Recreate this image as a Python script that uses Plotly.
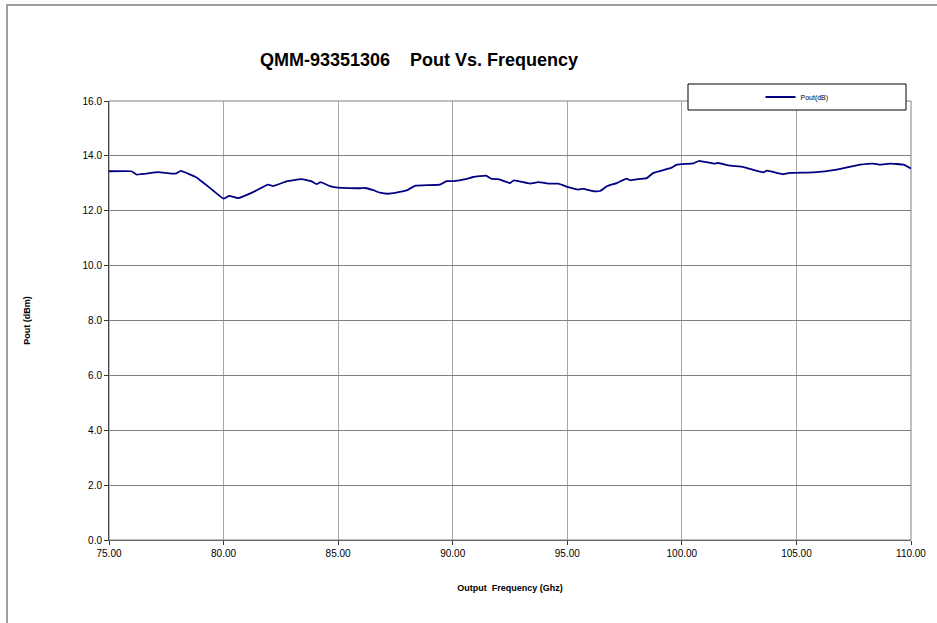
import plotly.graph_objects as go

freq = [75.0, 75.98, 76.2, 77.14, 77.9, 78.13, 78.82, 79.54, 80.0, 80.24, 80.63, 81.29, 81.94, 82.16,
        82.75, 83.4, 83.84, 84.06, 84.23, 84.64, 85.0, 85.95, 86.17, 86.5, 86.82, 87.18, 87.99, 88.35,
        89.44, 89.73, 90.02, 90.61, 90.9, 91.45, 91.7, 91.99, 92.5, 92.67, 93.37, 93.73, 94.24, 94.61,
        95.04, 95.48, 95.7, 96.14, 96.43, 96.72, 97.16, 97.59, 97.74, 98.17, 98.47, 98.76, 99.56, 99.78,
        100.5, 100.76, 101.38, 101.59, 102.03, 102.69, 103.56, 103.71, 104.43, 104.72, 105.74, 106.76,
        107.78, 108.36, 108.65, 109.08, 109.67, 110.0]
pout = [13.44, 13.44, 13.32, 13.41, 13.35, 13.45, 13.21, 12.74, 12.44, 12.54, 12.46, 12.68, 12.95, 12.90,
        13.07, 13.15, 13.07, 12.97, 13.04, 12.90, 12.84, 12.82, 12.83, 12.76, 12.66, 12.62, 12.74, 12.91,
        12.95, 13.08, 13.08, 13.16, 13.23, 13.28, 13.16, 13.15, 13.01, 13.11, 12.99, 13.04, 12.99, 12.99,
        12.86, 12.77, 12.80, 12.71, 12.72, 12.89, 13.01, 13.17, 13.11, 13.16, 13.19, 13.38, 13.57, 13.68,
        13.73, 13.82, 13.72, 13.74, 13.65, 13.59, 13.40, 13.46, 13.33, 13.38, 13.40, 13.50,
        13.68, 13.72, 13.68, 13.72, 13.68, 13.54]

series_name = "Pout(dB)"
title = "QMM-93351306    Pout Vs. Frequency"
x_title = "Output  Frequency (Ghz)"
y_title = "Pout (dBm)"

fig = go.Figure()
fig.add_trace(go.Scatter(x=freq, y=pout, mode="lines", name=series_name,
                         line=dict(color="#000080", width=1.8, shape="spline", smoothing=0.3)))

W, H = 937, 623
L, R, T, B = 109, 26, 101, 83
pw, ph = W - L - R, H - T - B

def px2paper_x(px):
    return (px - L) / pw

def px2paper_y(py):
    return (H - B - py) / ph

fig.update_layout(
    width=W, height=H,
    margin=dict(l=L, r=R, t=T, b=B),
    paper_bgcolor="white", plot_bgcolor="white",
    font=dict(family="Arial, Liberation Sans, sans-serif", color="black", size=10),
    title=dict(text="<b>" + title + "</b>", x=419 / W, xanchor="center",
               y=1 - 60 / H, yanchor="middle", font=dict(size=18)),
    showlegend=True,
    legend=dict(x=px2paper_x(797), y=px2paper_y(97), xanchor="center", yanchor="middle",
                bgcolor="rgba(0,0,0,0)", borderwidth=0, font=dict(size=7), itemwidth=30),
    xaxis=dict(range=[75, 110], dtick=5, tick0=75, tickformat=".2f",
               showgrid=True, gridcolor="#a6a6a6", gridwidth=1,
               showline=True, linecolor="#666666", linewidth=1, mirror=False,
               ticks="outside", ticklen=4, tickcolor="#333333",
               title=dict(text="<b>" + x_title + "</b>", font=dict(size=9), standoff=26),
               zeroline=False),
    yaxis=dict(range=[0, 16], dtick=2, tick0=0, tickformat=".1f",
               showgrid=True, gridcolor="#808080", gridwidth=1,
               showline=True, linecolor="#444444", linewidth=1,
               ticks="outside", ticklen=4, tickcolor="#333333",
               title=dict(text="<b>" + y_title + "</b>", font=dict(size=9), standoff=50),
               zeroline=False),
)

# plot area frame (top/right)
fig.add_shape(type="rect", xref="paper", yref="paper", x0=0, x1=1, y0=0, y1=1,
              line=dict(color="#808080", width=1), layer="below")
# outer chart border (right and bottom edges lie outside the view)
fig.add_shape(type="rect", xref="paper", yref="paper",
              x0=px2paper_x(7), x1=px2paper_x(960), y0=px2paper_y(640), y1=px2paper_y(5),
              line=dict(color="#808080", width=1.5), layer="below")
# legend box
fig.add_shape(type="rect", xref="paper", yref="paper",
              x0=px2paper_x(688), x1=px2paper_x(906), y0=px2paper_y(110), y1=px2paper_y(84),
              line=dict(color="black", width=1), fillcolor="white", layer="above")

fig.write_html("out.html", config={"displayModeBar": False},
               post_script="document.body.style.margin='0';document.body.style.overflow='hidden';")
